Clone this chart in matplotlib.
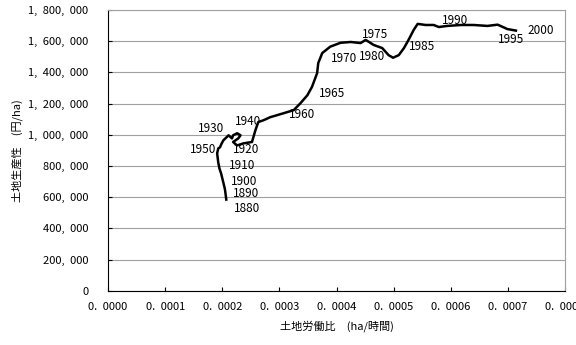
import matplotlib
matplotlib.use('Agg')
import matplotlib.pyplot as plt
import matplotlib.ticker as tkr

plt.rcParams['font.family'] = ['Noto Sans CJK JP', 'DejaVu Sans']

# land/labour ratio (ha per hour) and land productivity (yen per ha), 1880 -> 2000
ratio = [0.000207, 0.000205, 0.000204, 0.000201, 0.000198, 0.000195, 0.000193,
         0.000191, 0.000193, 0.000196, 0.000199, 0.000202, 0.000208, 0.000211,
         0.000217, 0.000219, 0.000226, 0.000232, 0.000228, 0.000219, 0.000226,
         0.000237, 0.000252, 0.000258, 0.000263, 0.000272, 0.000284, 0.000307,
         0.000325, 0.000337, 0.000349, 0.000357, 0.000366, 0.000368, 0.000375,
         0.000389, 0.000407, 0.000425, 0.000442, 0.000451, 0.000456, 0.000465,
         0.000480, 0.000491, 0.000499, 0.000509, 0.000518, 0.000526, 0.000535,
         0.000542, 0.000556, 0.000570, 0.000579, 0.000594, 0.000618, 0.000640,
         0.000664, 0.000682, 0.000699, 0.000714]
prod = [585000, 643000, 662000, 707000, 752000, 785000, 823000,
        881000, 913000, 920000, 945000, 965000, 986000, 997000,
        977000, 997000, 1010000, 997000, 977000, 954000, 932000,
        945000, 954000, 1029000, 1082000, 1093000, 1113000, 1138000,
        1158000, 1203000, 1254000, 1307000, 1395000, 1460000, 1524000,
        1565000, 1590000, 1595000, 1588000, 1608000, 1597000, 1576000,
        1556000, 1511000, 1494000, 1511000, 1556000, 1608000, 1672000,
        1711000, 1704000, 1704000, 1691000, 1698000, 1704000, 1704000,
        1698000, 1706000, 1678000, 1668000]

# year labels and where they sit
years = ['1880', '1890', '1900', '1910', '1920', '1950', '1930', '1940', '1960',
         '1965', '1970', '1980', '1975', '1985', '1990', '1995', '2000']
year_x = [0.000244, 0.000242, 0.000239, 0.000235, 0.000242, 0.000167, 0.000181,
          0.000246, 0.000340, 0.000393, 0.000414, 0.000463, 0.000468, 0.000549,
          0.000607, 0.000705, 0.000758]
year_y = [527000, 624000, 701000, 804000, 907000, 907000, 1042000, 1087000,
          1132000, 1267000, 1486000, 1505000, 1646000, 1569000, 1730000,
          1614000, 1666000]

fig = plt.figure(figsize=(5.76, 3.45), dpi=100)
ax = fig.add_axes([0.1875, 0.157, 0.7935, 0.814])

ax.plot(ratio, prod, color='black', lw=1.8)

for t, x, y in zip(years, year_x, year_y):
    ax.text(x, y, t, fontsize=8.5, ha='center', va='center')

ax.set_xlim(0, 0.0008)
ax.set_ylim(0, 1800000)
ax.xaxis.set_major_locator(tkr.MultipleLocator(0.0001))
ax.yaxis.set_major_locator(tkr.MultipleLocator(200000))
ax.xaxis.set_major_formatter(tkr.FuncFormatter(lambda v, p: f'{v:.4f}'.replace('.', '.\u2002')))
ax.yaxis.set_major_formatter(tkr.FuncFormatter(lambda v, p: f'{int(round(v)):,}'.replace(',', ',\u2002')))

ax.grid(axis='y', color='#a0a0a0', lw=0.8)
ax.set_axisbelow(True)
ax.tick_params(direction='in', length=3, labelsize=8, color='black')
ax.tick_params(axis='x', pad=8)
ax.tick_params(axis='y', pad=14)

for s in ['top', 'right']:
    ax.spines[s].set_color('#a0a0a0')
for s in ['left', 'bottom']:
    ax.spines[s].set_color('black')

ax.set_xlabel('土地労働比　(ha/時間)', fontsize=8, labelpad=6)
ax.set_ylabel('土地生産性　(円/ha)', fontsize=8, labelpad=4)

fig.savefig('out.png', dpi=100)
